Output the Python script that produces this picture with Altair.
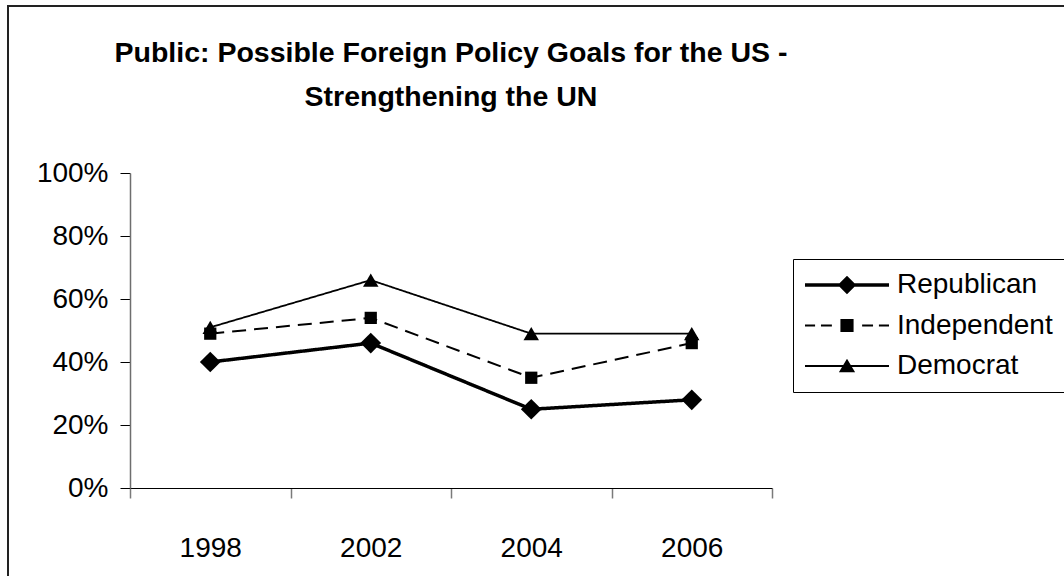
import altair as alt
import pandas as pd

# ---- data ----
years = ["1998", "2002", "2004", "2006"]
series = ["Republican", "Independent", "Democrat"]
republican = [40, 46, 25, 28]
independent = [49, 54, 35, 46]
democrat = [51, 66, 49, 49]
y_ticks = [0, 20, 40, 60, 80, 100]
title_lines = ["Public: Possible Foreign Policy Goals for the US -", "Strengthening the UN"]

rows = []
for name, vals in zip(series, [republican, independent, democrat]):
    for yr, v in zip(years, vals):
        rows.append({"year": yr, "series": name, "value": v})
df = pd.DataFrame(rows)

FONT = "Liberation Sans"

# ---- styles ----
line_widths = [3.5, 2.0, 1.8]
line_dashes = [[1, 0], [14, 8], [1, 0]]
marker_shapes = ["diamond", "square", "triangle-up"]
marker_sizes = [430, 150, 240]
# legend glyphs: line sample + marker, in units of the symbol radius (14 px)
legend_paths = [
    "M-3,-0.125L3,-0.125L3,0.125L-3,0.125Z M0,-0.66L0.66,0L0,0.66L-0.66,0Z",
    "M-3,-0.072L-2.28,-0.072L-2.28,0.072L-3,0.072Z "
    "M-1.86,-0.072L-1.08,-0.072L-1.08,0.072L-1.86,0.072Z "
    "M1.08,-0.072L1.86,-0.072L1.86,0.072L1.08,0.072Z "
    "M2.28,-0.072L3,-0.072L3,0.072L2.28,0.072Z "
    "M-0.47,-0.47L0.47,-0.47L0.47,0.47L-0.47,0.47Z",
    "M-3,-0.063L3,-0.063L3,0.063L-3,0.063Z M0,-0.52L0.58,0.44L-0.58,0.44Z",
]

x_enc = alt.X(
    "year:N",
    sort=years,
    scale=alt.Scale(type="band", paddingInner=0, paddingOuter=0),
    axis=alt.Axis(
        title=None, labelAngle=0, tickBand="extent", grid=False,
        domainColor="black", domainWidth=1, tickColor="#7a7a7a", tickWidth=1.5,
        tickSize=10, labelFont=FONT, labelFontSize=28, labelColor="black",
        labelPadding=36,
    ),
)
y_enc = alt.Y(
    "value:Q",
    scale=alt.Scale(domain=[0, 100]),
    axis=alt.Axis(
        title=None, values=y_ticks, labelExpr="datum.value + '%'", grid=False,
        domainColor="#6e6e6e", domainWidth=1.5, tickColor="black", tickWidth=1,
        tickSize=10, labelFont=FONT, labelFontSize=28, labelColor="black",
        labelPadding=12,
    ),
)

base = alt.Chart(df)

layers = []
for name, w, d in zip(series, line_widths, line_dashes):
    layers.append(
        base.transform_filter(alt.datum.series == name)
        .mark_line(color="black", strokeWidth=w, strokeDash=d)
        .encode(x=x_enc, y=y_enc)
    )

points = base.mark_point(filled=True, color="black", opacity=1).encode(
    x=x_enc,
    y=y_enc,
    shape=alt.Shape("series:N", scale=alt.Scale(domain=series, range=marker_shapes), legend=None),
    size=alt.Size(
        "series:N",
        scale=alt.Scale(type="ordinal", domain=series, range=marker_sizes),
        legend=None,
    ),
)
layers.append(points)

legend_layer = (
    base.transform_calculate(party="datum.series")
    .mark_point(filled=True, color="black", opacity=0)
    .encode(
        x=x_enc,
        y=y_enc,
        shape=alt.Shape(
            "party:N",
            scale=alt.Scale(domain=series, range=legend_paths),
            legend=alt.Legend(
                title=None, orient="none", legendX=663, legendY=86,
                symbolSize=784, symbolOffset=28, symbolFillColor="black",
                symbolStrokeWidth=0, symbolOpacity=1, labelFont=FONT,
                labelFontSize=28, labelColor="black", labelOffset=36,
                labelLimit=400, rowPadding=12.5, padding=12,
                strokeColor="black", fillColor="white",
            ),
        ),
    )
)
layers.append(legend_layer)

frame = (
    alt.Chart(pd.DataFrame({"f": [0]}))
    .mark_rect(filled=False, color="#222222", strokeWidth=2)
    .encode(x=alt.value(-122), x2=alt.value(1100), y=alt.value(-167), y2=alt.value(600))
)

chart = (
    alt.layer(frame, *layers)
    .resolve_scale(shape="independent")
    .properties(
        width=642,
        height=315,
        padding={"left": 130, "top": 173, "right": 292, "bottom": 88},
        autosize=alt.AutoSizeParams(type="none"),
        background="white",
        title=alt.TitleParams(
            text=title_lines, font=FONT, fontSize=28.5, fontWeight="bold",
            color="black", anchor="middle", frame="group", offset=-106,
            lineHeight=44,
        ),
    )
    .configure_view(stroke=None)
)

chart.save("out.html", embed_options={"renderer": "svg", "actions": False})
